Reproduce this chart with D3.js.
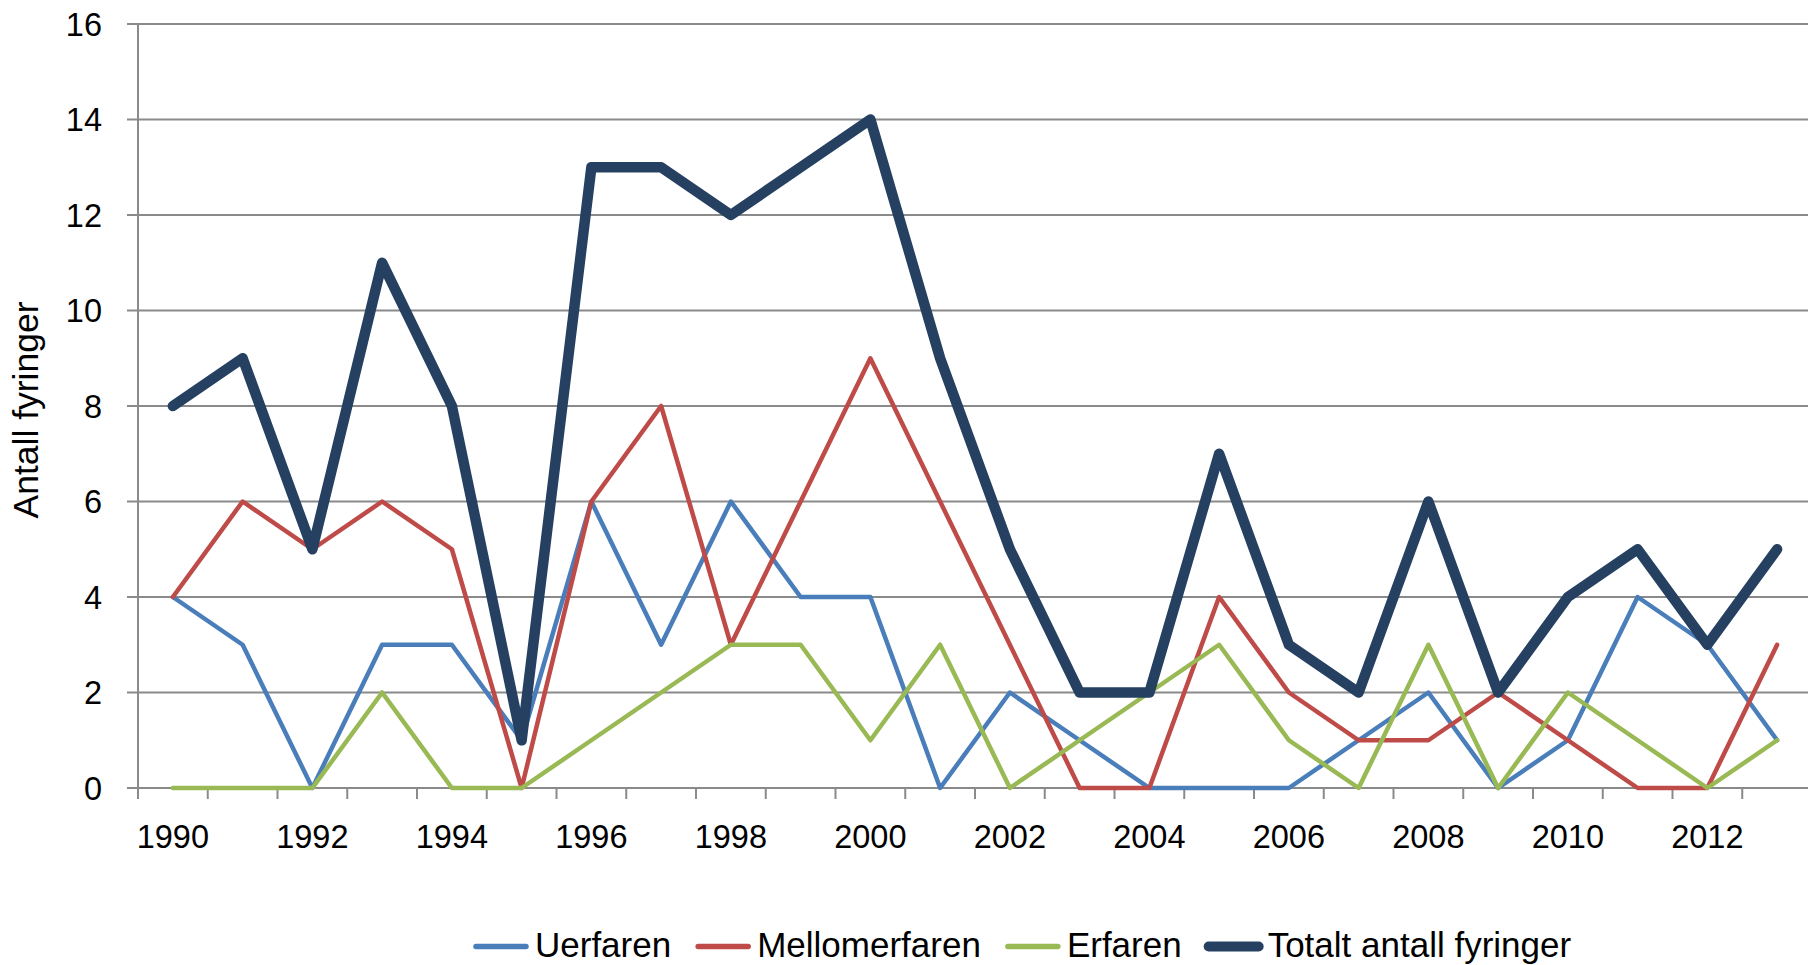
<!DOCTYPE html>
<html>
<head>
<meta charset="utf-8">
<script src="https://cdn.jsdelivr.net/npm/d3@7"></script>
<style>
  html, body { margin: 0; padding: 0; background: #fff; }
  svg { display: block; font-family: "Liberation Sans", Arial, sans-serif; }
</style>
</head>
<body>
<svg id="chart" width="1808" height="965"></svg>
<script>
const years = d3.range(1990, 2014);
const xTickLabels = ["1990","1992","1994","1996","1998","2000","2002","2004","2006","2008","2010","2012"];
const yTicks = [0, 2, 4, 6, 8, 10, 12, 14, 16];
const uerfaren      = [4,3,0,3,3,1,6,3,6,4,4,0,2,1,0,0,0,1,2,0,1,4,3,1];
const mellomerfaren = [4,6,5,6,5,0,6,8,3,6,9,6,3,0,0,4,2,1,1,2,1,0,0,3];
const erfaren       = [0,0,0,2,0,0,1,2,3,3,1,3,0,1,2,3,1,0,3,0,2,1,0,1];
const totalt        = [8,9,5,11,8,1,13,13,12,13,14,9,5,2,2,7,3,2,6,2,4,5,3,5];
const seriesNames = ["Uerfaren", "Mellomerfaren", "Erfaren", "Totalt antall fyringer"];
const yTitle = "Antall fyringer";

const series = [
  {name: seriesNames[0], values: uerfaren,      color: "#4a7ebb", width: 4.5},
  {name: seriesNames[1], values: mellomerfaren, color: "#be4b48", width: 4.5},
  {name: seriesNames[2], values: erfaren,       color: "#98b954", width: 4.5},
  {name: seriesNames[3], values: totalt,        color: "#254061", width: 10.5}
];

const svg = d3.select("#chart");
const mLeft = 138, mRight = 1812, mTop = 24, mBottom = 788;
const gridColor = "#8a8a8a";
const fs = 32.5;

const x = d3.scaleBand().domain(years).range([mLeft, mRight]).padding(0);
const y = d3.scaleLinear().domain([0, 16]).range([mBottom, mTop]);

// gridlines
svg.append("g").selectAll("line").data(yTicks).join("line")
  .attr("x1", mLeft - 11).attr("x2", 1808)
  .attr("y1", d => y(d)).attr("y2", d => y(d))
  .attr("stroke", gridColor).attr("stroke-width", 2);

// y axis line
svg.append("line").attr("x1", mLeft).attr("x2", mLeft).attr("y1", mTop).attr("y2", mBottom)
  .attr("stroke", gridColor).attr("stroke-width", 2);

// x ticks at band boundaries
const boundaries = years.map(d => x(d)).concat([x(years[years.length-1]) + x.bandwidth()]);
svg.append("g").selectAll("line").data(boundaries).join("line")
  .attr("x1", d => d).attr("x2", d => d)
  .attr("y1", mBottom).attr("y2", mBottom + 11)
  .attr("stroke", gridColor).attr("stroke-width", 2);

// y tick labels
svg.append("g").selectAll("text").data(yTicks).join("text")
  .attr("x", 102).attr("y", d => y(d) + 11.6)
  .attr("text-anchor", "end").attr("font-size", fs).attr("fill", "#000")
  .text(d => d);

// x tick labels
svg.append("g").selectAll("text").data(xTickLabels).join("text")
  .attr("x", d => x(+d) + x.bandwidth() / 2).attr("y", 847.5)
  .attr("text-anchor", "middle").attr("font-size", fs).attr("fill", "#000")
  .text(d => d);

// y title
svg.append("text")
  .attr("transform", "translate(38,410) rotate(-90)")
  .attr("text-anchor", "middle").attr("font-size", 35.5).attr("fill", "#000")
  .text(yTitle);

// lines
const line = d3.line()
  .x((d, i) => x(years[i]) + x.bandwidth() / 2)
  .y(d => y(d));

svg.append("g").selectAll("path").data(series).join("path")
  .attr("d", d => line(d.values))
  .attr("fill", "none")
  .attr("stroke", d => d.color)
  .attr("stroke-width", d => d.width)
  .attr("stroke-linejoin", "round")
  .attr("stroke-linecap", "round");

// legend
const legend = svg.append("g");
let lx = 473;
const ly = 946.5;
series.forEach(s => {
  legend.append("line")
    .attr("x1", lx + 3).attr("x2", lx + 53)
    .attr("y1", ly).attr("y2", ly)
    .attr("stroke", s.color)
    .attr("stroke-width", s.width > 8 ? 10 : 5.5)
    .attr("stroke-linecap", "round");
  const t = legend.append("text")
    .attr("x", lx + 62).attr("y", 957)
    .attr("font-size", 35).attr("fill", "#000")
    .text(s.name);
  const w = t.node().getComputedTextLength();
  lx = lx + 62 + w + 24;
});
</script>
</body>
</html>
